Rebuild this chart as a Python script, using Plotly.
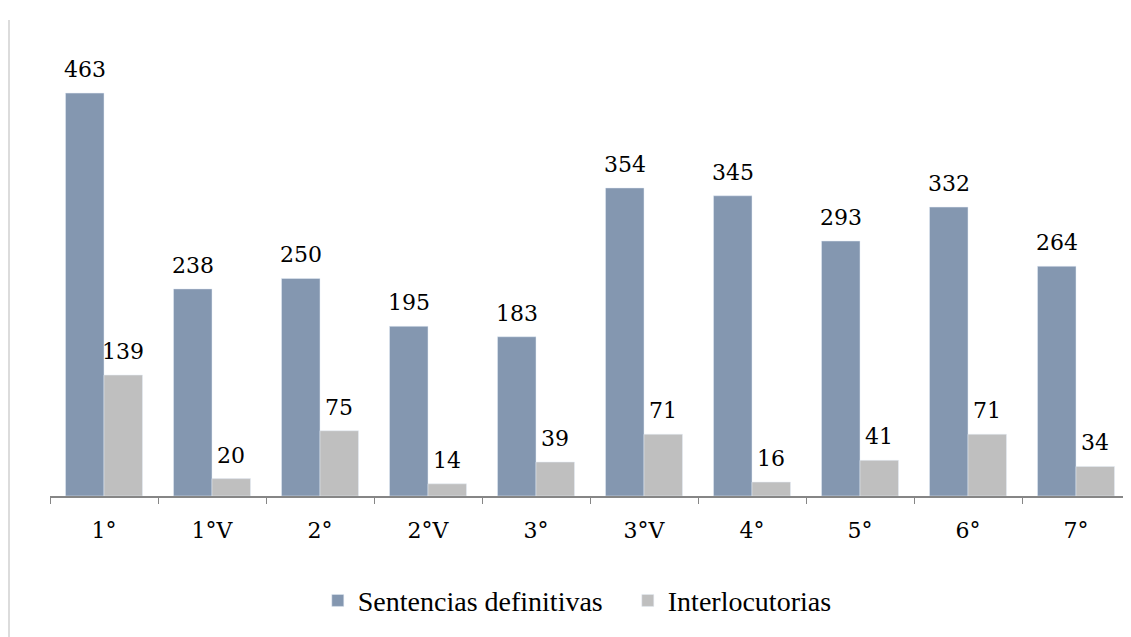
import plotly.graph_objects as go

categorias = ["1°", "1°V", "2°", "2°V", "3°", "3°V", "4°", "5°", "6°", "7°"]
sentencias = [463, 238, 250, 195, 183, 354, 345, 293, 332, 264]
interlocutorias = [139, 20, 75, 14, 39, 71, 16, 41, 71, 34]

num_font = dict(family="DejaVu Serif, serif", size=22, color="black")
leg_font = dict(family="Liberation Serif, serif", size=28, color="black")

fig = go.Figure()
fig.add_trace(go.Bar(x=categorias, y=sentencias, name="Sentencias definitivas",
                     marker_color="#8497B0"))
fig.add_trace(go.Bar(x=categorias, y=interlocutorias, name="Interlocutorias",
                     marker_color="#BFBFBF"))

# value labels above the bars (offset half a bar to the left / right)
for vals, dx in ((sentencias, -19), (interlocutorias, 19)):
    for c, v in zip(categorias, vals):
        fig.add_annotation(x=c, y=v, text=str(v), showarrow=False,
                           xshift=dx, yshift=9, yanchor="bottom", font=num_font)

# page body adds 8px margin, so the figure is 8px smaller than the window
fig.update_layout(
    width=1123, height=629,
    barmode="group", bargap=0.287, bargroupgap=0,
    plot_bgcolor="white", paper_bgcolor="white",
    margin=dict(l=42, r=1, t=12, b=141, autoexpand=False),
    font=num_font,
    legend=dict(orientation="h", x=0.535, xanchor="center", y=-0.22, yanchor="middle",
                font=leg_font, itemwidth=30, entrywidth=265, entrywidthmode="pixels"),
    showlegend=True,
)
fig.update_xaxes(showline=True, linecolor="#868686", linewidth=2,
                 ticks="outside", tickson="boundaries", ticklen=6, tickcolor="#868686",
                 tickfont=num_font, ticklabelstandoff=14, showgrid=False)
fig.update_yaxes(range=[0, 547], visible=False, showgrid=False)

# vertical border line on the left
fig.add_shape(type="line", xref="paper", yref="paper",
              x0=-41 / 1080, x1=-41 / 1080, y0=-141 / 476, y1=1.0,
              line=dict(color="#D0D0D0", width=1.5))

fig.write_html("out.html")
